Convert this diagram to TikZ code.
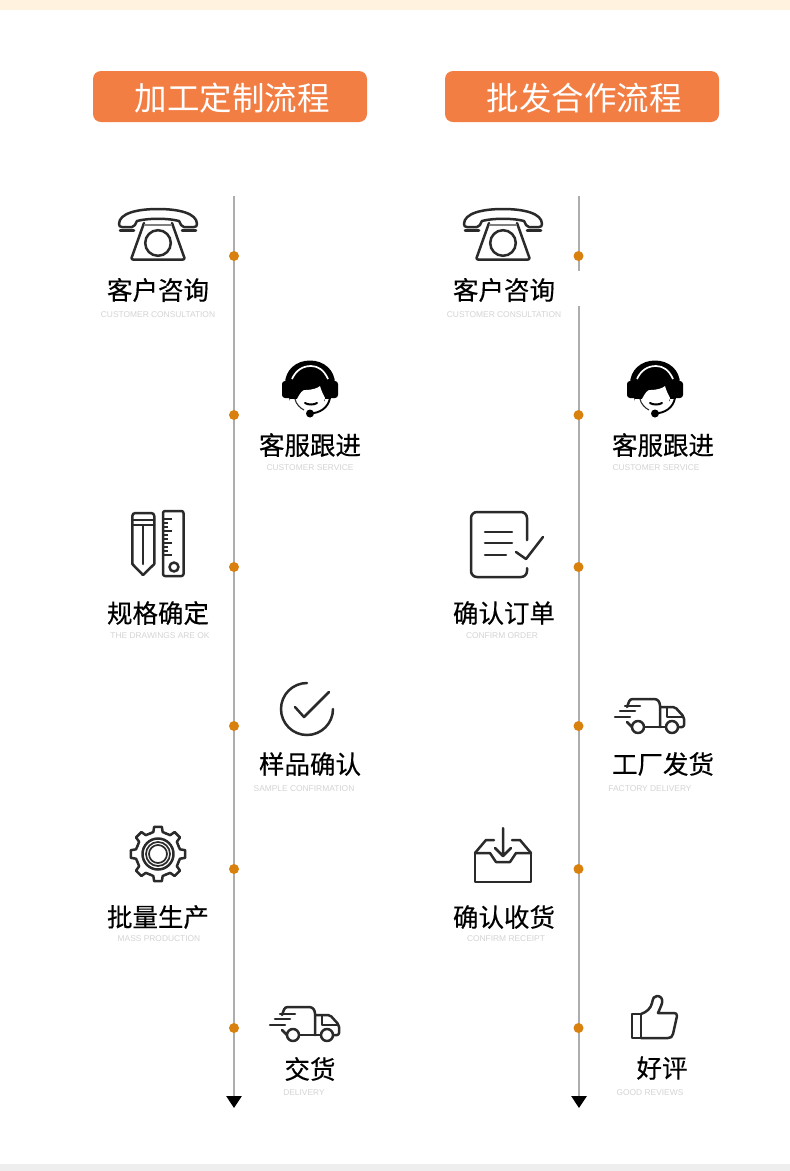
\documentclass[tikz,border=0pt]{standalone}
\usepackage{fontspec}
\setmainfont[FakeBold=0.35]{Noto Sans CJK SC}
\newfontfamily\hdrfont{Noto Sans CJK SC}
\newfontfamily\capfont{Liberation Sans}
\usetikzlibrary{arrows.meta}
\definecolor{hdr}{HTML}{F27E44}
\definecolor{dotc}{HTML}{D9810F}
\definecolor{linec}{HTML}{ADADAD}
\definecolor{capc}{HTML}{D4D4D4}
\definecolor{ink}{HTML}{2A2A2A}
\tikzset{
  x=1pt,y=-1pt,
  hdrbox/.style={fill=hdr,rounded corners=8pt,minimum width=274pt,minimum height=51pt,inner sep=0pt},
  hdrtext/.style={inner sep=0pt,text=white,font=\hdrfont\fontsize{32.5}{36}\selectfont},
  stepname/.style={inner sep=0pt,text=black,yshift=1pt,font=\fontsize{25.5}{30}\selectfont},
  captext/.style={inner sep=0pt,text=capc,font=\capfont\fontsize{8.4}{10}\selectfont},
  dotnode/.style={circle,fill=dotc,minimum size=10pt,inner sep=0pt},
  timeline/.style={draw=linec,line width=2.8pt},
  iconline/.style={draw=ink,line width=2.5pt,line cap=round,line join=round,fill=none},
  iconphone/.pic={
    \draw[iconline] (-39,-11) .. controls (-39,-22) and (-20,-26) .. (0,-26) .. controls (20,-26) and (39,-22) .. (39,-11) .. controls (39,-9) and (38,-8) .. (36,-8) -- (26,-8) .. controls (23,-8) and (23,-11) .. (21,-14) .. controls (10,-17) and (-10,-17) .. (-21,-14) .. controls (-23,-11) and (-23,-8) .. (-26,-8) -- (-36,-8) .. controls (-38,-8) and (-39,-9) .. (-39,-11) -- cycle;
    \draw[iconline] (-38,-4.5) -- (-24,-4.5) (38,-4.5) -- (24,-4.5);
    \draw[iconline,rounded corners=2pt] (-14,-12) -- (-27,24.5) -- (27,24.5) -- (14,-12);
    \draw[draw=ink!60,line width=1.4pt] (-14,-10) -- (14,-10);
    \draw[iconline] (0,8) circle (12.8);
  },
  iconheadset/.pic={
    \fill[black] (-25,-6) .. controls (-25,-20) and (-14,-29.5) .. (0,-29.5) .. controls (14,-29.5) and (25,-20) .. (25,-6) -- (20,11) -- (-20,11) -- cycle;
    \fill[black,rounded corners=3pt] (-28,-9) rectangle (-17,8);
    \fill[black,rounded corners=3pt] (17,-9) rectangle (28,8);
    \draw[white,line width=1.7pt] (-18,-11) .. controls (-14,-20) and (-7,-24) .. (1,-24) .. controls (8,-24) and (14,-20) .. (18,-11);
    \fill[white] (-13,9) .. controls (-10,3) and (-7,-1) .. (-4,0) .. controls (2,0) and (8,-2) .. (10,-4) .. controls (11,0) and (13,4) .. (15,8) .. controls (15,14) and (8,21) .. (0,21) .. controls (-8,21) and (-15,14) .. (-13,9) -- cycle;
    \fill[white] (-20,8.5) rectangle (-13,12);
    \fill[white] (15,8.5) rectangle (21,12);
    \draw[draw=ink,line width=1.1pt] (-15,9) .. controls (-14,14) and (-10,18) .. (-6,20);
    \draw[line width=2pt,black,line cap=round] (-5,13) .. controls (-2,15) and (4,15) .. (7,13);
    \draw[line width=1.9pt,black] (20,8) .. controls (18,18) and (10,23) .. (0,23.5);
    \fill[black] (0,23.5) circle (4);
  },
  iconruler/.pic={
    \draw[iconline,rounded corners=3pt] (-25.7,21) -- (-25.7,-30) -- (-3.7,-30) -- (-3.7,21);
    \draw[iconline] (-25.7,21) -- (-15,32) -- (-3.7,21);
    \draw[iconline] (-25.7,-23) -- (-3.7,-23) (-25.7,-18) -- (-3.7,-18);
    \draw[iconline] (-15,-18) -- (-15,21);
    \draw[iconline,rounded corners=2pt] (5,-32) rectangle (25.5,33);
    \foreach \yy/\ll in {-24/9,-20/5,-16/5,-12/9,-8/5,-4/5,0/9,4/5,8/5,12/9}{\draw[draw=ink,line width=1.7pt] (5,\yy) -- ++(\ll,0);}
    \draw[iconline] (16,24) circle (4.5);
  },
  iconcheck/.pic={
    \draw[draw=ink,line width=2.5pt,line cap=round] (26,0) arc[start angle=0,end angle=270,radius=26];
    \draw[iconline] (-12,-2) -- (-3,8) -- (22,-17);
  },
  icongear/.pic={
    \foreach \a in {0,45,...,315}{
      \draw[iconline] (\a-22.5:22) -- (\a-12:22.5) -- (\a-8:27.5) -- (\a+8:27.5) -- (\a+12:22.5) -- (\a+22.5:22);
    }
    \draw[iconline] (0,0) circle (15.5);
    \draw[draw=ink,line width=1.7pt] (0,0) circle (12);
    \draw[draw=ink,line width=1.7pt] (0,0) circle (9);
  },
  icontruck/.pic={
    \draw[iconline,rounded corners=2.5pt] (-23,-9) -- (-20,-17) -- (7,-17) -- (10,-13) -- (10,11);
    \draw[iconline] (-5,11) -- (15,11);
    \draw[iconline,rounded corners=2pt] (10,-9) -- (25,-9) -- (34,1) -- (34,11) -- (29,11);
    \draw[iconline] (17,-9) -- (17,1) -- (33,1);
    \draw[iconline] (-23,6) -- (-18,11);
    \draw[iconline] (-12,11) circle (6) (22,11) circle (6);
    \draw[iconline] (-25,-10) -- (-10,-10) (-30,-5) -- (-15,-5) (-35,1) -- (-20,1);
  },
  iconorder/.pic={
    \draw[iconline,rounded corners=6pt] (29,-5) -- (29,-33) -- (-27,-33) -- (-27,32) -- (29,32) -- (29,23);
    \draw[iconline] (-13,-13) -- (14,-13) (-13,-2) -- (14,-2) (-13,10) -- (8,10);
    \draw[iconline] (18,7) -- (28,14) -- (45,-8);
  },
  iconbox/.pic={
    \draw[iconline] (-28,-2) -- (-28,27) -- (28,27) -- (28,-2);
    \draw[iconline] (-28,-2) -- (-17,-15) -- (-9,-15) (9,-15) -- (17,-15) -- (28,-2);
    \draw[iconline] (-28,-2) -- (-13,-2) -- (-7,7) -- (7,7) -- (13,-2) -- (28,-2);
    \draw[iconline] (0,-27) -- (0,1) (-8,-7) -- (0,1) -- (8,-7);
  },
  iconthumb/.pic={
    \draw[iconline] (-21,-4) -- (-12,-4) -- (-12,20) -- (-21,20) -- cycle;
    \draw[iconline] (-12,-4) .. controls (-6,-6) and (-2,-10) .. (-1,-15) .. controls (0,-20) and (1,-22) .. (4,-22) .. controls (8,-22) and (10,-19) .. (9,-15) .. controls (8,-11) and (6,-8) .. (5,-5) -- (21,-5) .. controls (23,-5) and (24,-4) .. (24,-2) -- (20,16) .. controls (19,19) and (18,20) .. (15,20) -- (-12,20);
  },
}
\begin{document}
\begin{tikzpicture}
\useasboundingbox (0,0) rectangle (790,1171);
\fill[white] (0,0) rectangle (790,1171);
\fill[fill={rgb,255:red,255;green,243;blue,224}] (0,0) rectangle (790,10);
\fill[fill={rgb,255:red,238;green,238;blue,238}] (0,1164) rectangle (790,1171);

\node[hdrbox] (hl) at (230,96.5) {};
\node[hdrbox] (hr) at (582,96.5) {};
\node[hdrtext] (hlt) at (232,98) {加工定制流程};
\node[hdrtext] (hrt) at (584,98) {批发合作流程};

% timelines
\coordinate (ltop) at (234,196);
\coordinate (lend) at (234,1108);
\coordinate (rtop) at (579,196);
\coordinate (rgapa) at (579,271);
\coordinate (rgapb) at (579,306);
\coordinate (rend) at (579,1108);
\draw[timeline,-{Triangle[length=12pt,width=15pt,fill=black,color=black]}] (ltop) -- (lend);
\draw[timeline] (rtop) -- (rgapa);
\draw[timeline,-{Triangle[length=12pt,width=15pt,fill=black,color=black]}] (rgapb) -- (rend);

\foreach \n/\y in {a/256,b/415,c/567,d/726,e/869,f/1028}{
  \node[dotnode] (l\n) at (234,\y) {};
  \node[dotnode] (r\n) at (578.5,\y) {};
}

% left column
\pic at (158,235) {iconphone};
\node[stepname] (t1) at (158,291) {客户咨询};
\node[captext] (c1) at (158,315) {CUSTOMER CONSULTATION};
\pic at (310,390) {iconheadset};
\node[stepname] (t2) at (310,446) {客服跟进};
\node[captext] (c2) at (310,468) {CUSTOMER SERVICE};
\pic at (158,543) {iconruler};
\node[stepname] (t3) at (158,614) {规格确定};
\node[captext] (c3) at (160,636) {THE DRAWINGS ARE OK};
\pic at (307,709) {iconcheck};
\node[stepname] (t4) at (310,765) {样品确认};
\node[captext] (c4) at (304,789) {SAMPLE CONFIRMATION};
\pic at (158,854) {icongear};
\node[stepname] (t5) at (158,918) {批量生产};
\node[captext] (c5) at (159,939) {MASS PRODUCTION};
\pic at (305,1024) {icontruck};
\node[stepname] (t6) at (310,1070) {交货};
\node[captext] (c6) at (304,1093) {DELIVERY};

% right column
\pic at (503,235) {iconphone};
\node[stepname] (u1) at (504,291) {客户咨询};
\node[captext] (d1) at (504,315) {CUSTOMER CONSULTATION};
\pic at (655,390) {iconheadset};
\node[stepname] (u2) at (663,446) {客服跟进};
\node[captext] (d2) at (656,468) {CUSTOMER SERVICE};
\pic at (498,545) {iconorder};
\node[stepname] (u3) at (504,614) {确认订单};
\node[captext] (d3) at (502,636) {CONFIRM ORDER};
\pic at (650,716) {icontruck};
\node[stepname] (u4) at (663,765) {工厂发货};
\node[captext] (d4) at (650,789) {FACTORY DELIVERY};
\pic at (503,855) {iconbox};
\node[stepname] (u5) at (504,918) {确认收货};
\node[captext] (d5) at (506,939) {CONFIRM RECEIPT};
\pic at (653,1018) {iconthumb};
\node[stepname] (u6) at (662,1069) {好评};
\node[captext] (d6) at (650,1093) {GOOD REVIEWS};
\end{tikzpicture}
\end{document}
